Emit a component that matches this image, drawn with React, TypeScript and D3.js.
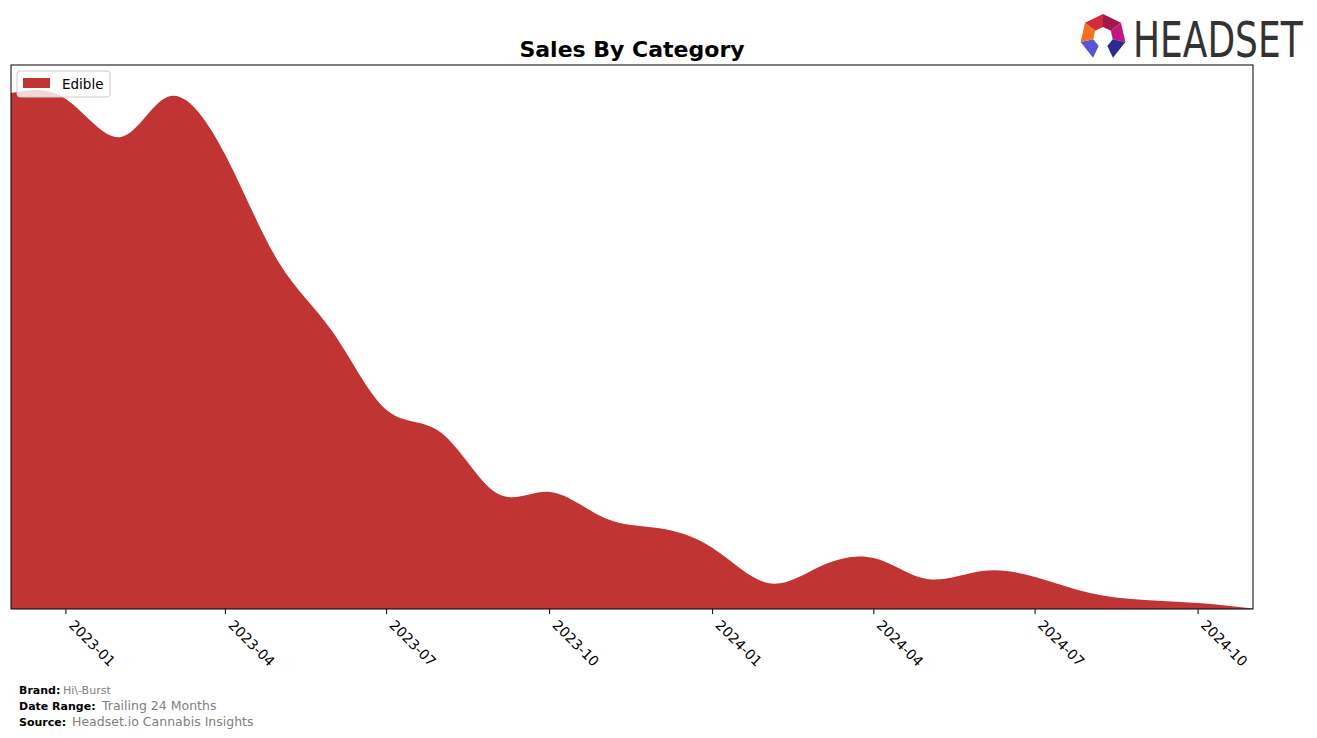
import React from "react";
import * as d3 from "d3";

const months = [
  "2022-12-01", "2023-01-01", "2023-02-01", "2023-03-01", "2023-04-01", "2023-05-01",
  "2023-06-01", "2023-07-01", "2023-08-01", "2023-09-01", "2023-10-01", "2023-11-01",
  "2023-12-01", "2024-01-01", "2024-02-01", "2024-03-01", "2024-04-01", "2024-05-01",
  "2024-06-01", "2024-07-01", "2024-08-01", "2024-09-01", "2024-10-01", "2024-11-01",
];
const edibleSales = [
  51.6, 51.0, 47.2, 51.3, 45.4, 34.7, 27.6, 19.9, 17.6, 11.6, 11.7, 9.1,
  8.1, 6.1, 2.6, 4.2, 5.1, 3.0, 3.8, 3.2, 1.6, 0.9, 0.6, 0.05,
];
const tickLabels = ["2023-01", "2023-04", "2023-07", "2023-10", "2024-01", "2024-04", "2024-07", "2024-10"];
const seriesName = "Edible";
const yMax = 54.4;

const W = 1317, H = 738;
const L = 11, R = 1253, T = 65, B = 609;
const FILL = "#c03434";

export default function App() {
  const parse = d3.timeParse("%Y-%m-%d");
  const dates = months.map((m) => parse(m) as Date);
  const x = d3.scaleTime().domain([dates[0], dates[dates.length - 1]]).range([L, R]);
  const y = d3.scaleLinear().domain([0, yMax]).range([B, T]);
  const data = dates.map((d, i) => ({ d, v: edibleSales[i] }));
  const area = d3
    .area<{ d: Date; v: number }>()
    .x((p) => x(p.d))
    .y0(y(0))
    .y1((p) => y(p.v))
    .curve(d3.curveNatural);
  const tickDates = tickLabels.map((t) => parse(t + "-01") as Date);

  // logo heptagon
  const cx = 1103, cy = 37, ro = 23, ri = 10;
  const ang = (k: number) => ((-90 + (k * 360) / 7) * Math.PI) / 180;
  const segColors: Record<number, string> = {
    0: "#a3174a",
    1: "#c0187c",
    2: "#2f2a8f",
    4: "#5b52d4",
    5: "#f27221",
    6: "#d42b3a",
  };
  const segs = [0, 1, 2, 4, 5, 6].map((k) => {
    const a0 = ang(k), a1 = ang(k + 1);
    const pts: [number, number][] = [
      [cx + ro * Math.cos(a0), cy + ro * Math.sin(a0)],
      [cx + ro * Math.cos(a1), cy + ro * Math.sin(a1)],
      [cx + ri * Math.cos(a1), cy + ri * Math.sin(a1)],
      [cx + ri * Math.cos(a0), cy + ri * Math.sin(a0)],
    ];
    return { k, pts };
  });

  return (
    <svg width={W} height={H} style={{ position: "absolute", left: 0, top: 0 }} fontFamily="DejaVu Sans">
      <rect x={0} y={0} width={W} height={H} fill="#fff" />
      <path d={area(data) || ""} fill={FILL} />
      <rect x={L} y={T} width={R - L} height={B - T} fill="none" stroke="#000" strokeWidth={1} />
      {tickDates.map((d, i) => {
        const tx = x(d);
        return (
          <g key={i}>
            <line x1={tx} x2={tx} y1={B} y2={B + 5} stroke="#000" strokeWidth={1} />
            <text
              transform={`translate(${tx + 2},${B + 17}) rotate(45)`}
              fontSize={14}
              fill="#000"
            >
              {tickLabels[i]}
            </text>
          </g>
        );
      })}
      <text x={(L + R) / 2} y={57} textAnchor="middle" fontSize={22} fontWeight="bold">
        Sales By Category
      </text>
      <g>
        <rect x={17} y={71} width={93} height={26} rx={3} fill="#fff" fillOpacity={0.8} stroke="#cccccc" />
        <rect x={23} y={78} width={27} height={10} fill={FILL} />
        <text x={62} y={89} fontSize={13.5} fill="#000">{seriesName}</text>
      </g>
      <g>
        {segs.map((s) => (
          <polygon key={s.k} points={s.pts.map((p) => p.join(",")).join(" ")} fill={segColors[s.k]} />
        ))}
        <polygon points={`${cx + ro * Math.cos(ang(4))},${cy + ro * Math.sin(ang(4))} ${cx + ri * Math.cos(ang(4))},${cy + ri * Math.sin(ang(4))} ${cx - 11},${cy + 23}`} fill="#3d37a8" />
        <polygon points={`${cx + ro * Math.cos(ang(3))},${cy + ro * Math.sin(ang(3))} ${cx + ri * Math.cos(ang(3))},${cy + ri * Math.sin(ang(3))} ${cx + 11},${cy + 23}`} fill="#1f1c6e" />
        <text transform="translate(1133,57) scale(0.72,1)" fontSize={50} fill="#333333">
          HEADSET
        </text>
      </g>
      <g fontSize={11}>
        <text x={19} y={694} fontWeight="bold">Brand:</text>
        <text x={63} y={694} fill="#808080">Hi\-Burst</text>
        <text x={19} y={710} fontWeight="bold">Date Range:</text>
        <text x={102} y={710} fill="#808080" fontSize={12.5}>Trailing 24 Months</text>
        <text x={19} y={726} fontWeight="bold">Source:</text>
        <text x={72} y={726} fill="#808080" fontSize={12.5}>Headset.io Cannabis Insights</text>
      </g>
    </svg>
  );
}
